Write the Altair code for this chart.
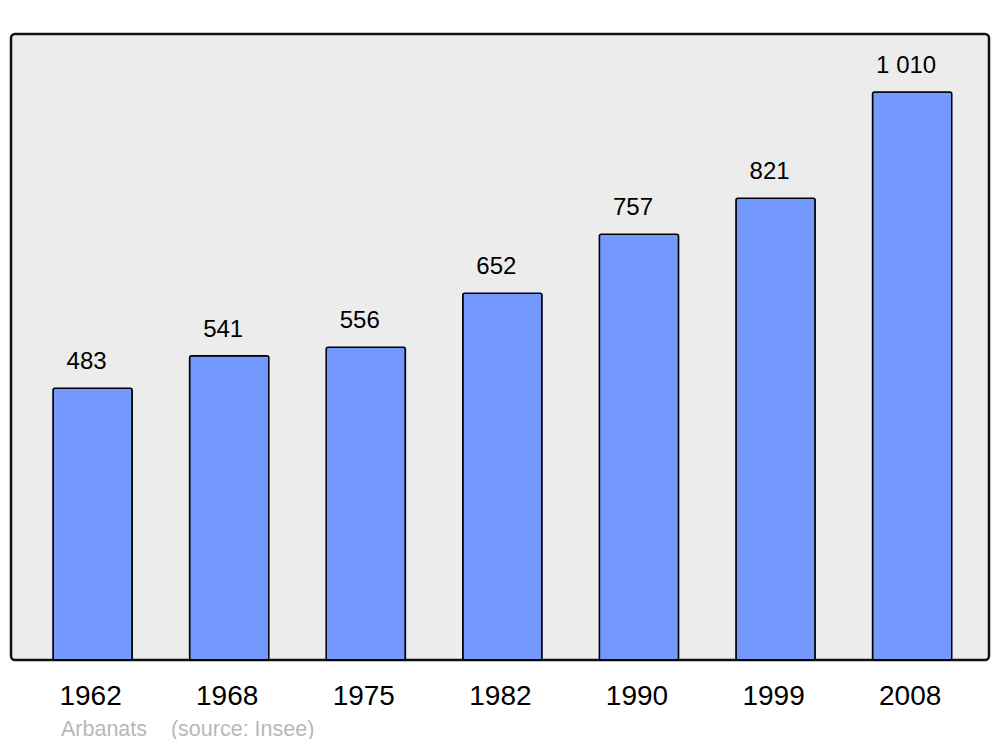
import altair as alt
import pandas as pd

years = ["1962", "1968", "1975", "1982", "1990", "1999", "2008"]
population = [483, 541, 556, 652, 757, 821, 1010]

def fmt(v):
    s = f"{v:,}"
    return s.replace(",", " ")

df = pd.DataFrame({"year": years, "pop": population, "label": [fmt(v) for v in population]})

FONT = "Liberation Sans"

x = alt.X("year:N", sort=years, title=None,
          scale=alt.Scale(paddingInner=0.42, paddingOuter=0.29, align=0.53),
          axis=alt.Axis(labelAngle=0, labelFontSize=28, labelFont=FONT, labelColor="#000000",
                        ticks=False, domain=False, labelPadding=22, labelOffset=-2, grid=False))
y = alt.Y("pop:Q", title=None, scale=alt.Scale(domain=[0, 1113], nice=False, zero=True), axis=None)

bars = alt.Chart(df).mark_bar(color="#7399ff", stroke="#000000", strokeWidth=1.5, cornerRadius=2).encode(x=x, y=y)
labels = alt.Chart(df).mark_text(baseline="alphabetic", dy=-19, dx=-6, fontSize=24, font=FONT, color="#000000").encode(
    x=x, y=y, text="label:N")

chart = alt.layer(bars, labels).properties(
    width=978, height=626,
    autosize=alt.AutoSizeParams(type="none"),
    padding={"left": 3, "top": 26, "right": 3, "bottom": 79},
    title=alt.TitleParams(text="Arbanats\u00a0\u00a0\u00a0\u00a0(source: Insee)", orient="bottom", anchor="start",
                          dx=50, offset=9, fontSize=21.5, font=FONT, fontWeight="normal", color="#b8b8b8"),
).configure_view(fill="#ececec", stroke="#111111", strokeWidth=2.5, cornerRadius=4)

chart.save("out.html", embed_options={"renderer": "svg", "actions": False})
